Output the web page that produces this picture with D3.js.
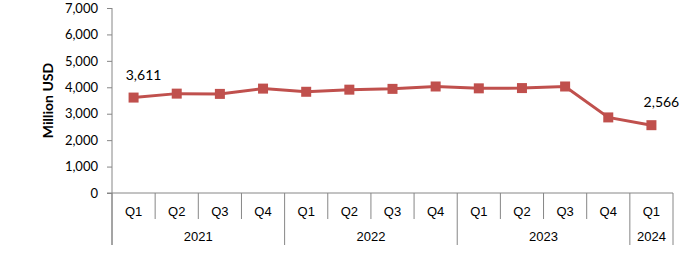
<!DOCTYPE html>
<html>
<head>
<meta charset="utf-8">
<script src="https://d3js.org/d3.v7.min.js"></script>
<style>
  body { margin: 0; background: #fff; }
  .cat { font-family: "Liberation Sans", Arial, sans-serif; font-size: 13px; }
  .cal { font-family: Lato, "Open Sans", sans-serif; }
</style>
</head>
<body>
<div id="chart"></div>
<script>

// data
const quarters = ["Q1","Q2","Q3","Q4","Q1","Q2","Q3","Q4","Q1","Q2","Q3","Q4","Q1"];
const years = ["2021","2021","2021","2021","2022","2022","2022","2022","2023","2023","2023","2023","2024"];
const values = [3611, 3760, 3750, 3950, 3830, 3910, 3940, 4030, 3960, 3970, 4030, 2860, 2566];
const labelled = [0, 12];
const yTicks = [0, 1000, 2000, 3000, 4000, 5000, 6000, 7000];

const W = 688, H = 265;
const margin = {top: 8, right: 15, bottom: 72, left: 112};

const svg = d3.select("#chart").append("svg")
    .attr("width", W).attr("height", H);

const keys = values.map((d, i) => i);

const x = d3.scaleBand()
    .domain(keys)
    .range([margin.left, W - margin.right]);

const y = d3.scaleLinear()
    .domain([0, 7000])
    .range([H - margin.bottom, margin.top]);

const axisColor = "#868686";

// y axis
const yAxis = svg.append("g")
    .attr("transform", `translate(${margin.left},0)`)
    .call(d3.axisLeft(y).tickValues(yTicks).tickSize(5).tickPadding(9)
        .tickFormat(d3.format(",")));
yAxis.attr("font-family", null).attr("font-size", null);
yAxis.select(".domain").attr("stroke", axisColor).attr("d", `M0,${y(7000)}V245`);
yAxis.selectAll(".tick line").attr("stroke", axisColor);
yAxis.selectAll("text")
    .attr("class", "cal")
    .attr("fill", "#000")
    .style("font-size", "13px");

// y title
svg.append("text")
    .attr("class", "cal")
    .attr("transform", `translate(53,${(y(0) + y(7000)) / 2}) rotate(-90)`)
    .attr("text-anchor", "middle")
    .style("font-weight", "bold")
    .style("font-size", "14px")
    .text("Million USD");

// x axis baseline
svg.append("line")
    .attr("x1", margin.left - 5).attr("x2", x.range()[1])
    .attr("y1", y(0)).attr("y2", y(0))
    .attr("stroke", axisColor);

// separators between categories
const bounds = keys.map(i => x(i)).concat([x.range()[1]]);
svg.append("g").selectAll("line")
    .data(bounds)
    .join("line")
    .attr("x1", d => d).attr("x2", d => d)
    .attr("y1", y(0))
    .attr("y2", (d, i) => (i === 0 || i === bounds.length - 1 || (i < keys.length && years[i] !== years[i - 1])) ? 245 : 219)
    .attr("stroke", axisColor);

// quarter labels
svg.append("g").selectAll("text")
    .data(keys)
    .join("text")
    .attr("class", "cat")
    .attr("x", i => x(i) + x.bandwidth() / 2)
    .attr("y", 216)
    .attr("text-anchor", "middle")
    .text(i => quarters[i]);

// year labels
const yearGroups = d3.groups(keys, i => years[i]);
svg.append("g").selectAll("text")
    .data(yearGroups)
    .join("text")
    .attr("class", "cat")
    .attr("x", g => (x(g[1][0]) + x(g[1][g[1].length - 1]) + x.bandwidth()) / 2)
    .attr("y", 241)
    .attr("text-anchor", "middle")
    .text(g => g[0]);

// line
const cx = i => x(i) + x.bandwidth() / 2;
svg.append("path")
    .datum(keys)
    .attr("fill", "none")
    .attr("stroke", "#C0504D")
    .attr("stroke-width", 3)
    .attr("d", d3.line().x(cx).y(i => y(values[i])));

// markers
svg.append("g").selectAll("rect")
    .data(keys)
    .join("rect")
    .attr("x", i => cx(i) - 5)
    .attr("y", i => y(values[i]) - 5)
    .attr("width", 10).attr("height", 10)
    .attr("fill", "#C0504D");

// data labels
svg.append("g").selectAll("text")
    .data(labelled)
    .join("text")
    .attr("class", "cal")
    .attr("x", i => cx(i) + 10)
    .attr("y", i => y(values[i]) - 18)
    .attr("text-anchor", "middle")
    .style("font-size", "14px")
    .text(i => d3.format(",")(values[i]));

</script>
</body>
</html>
